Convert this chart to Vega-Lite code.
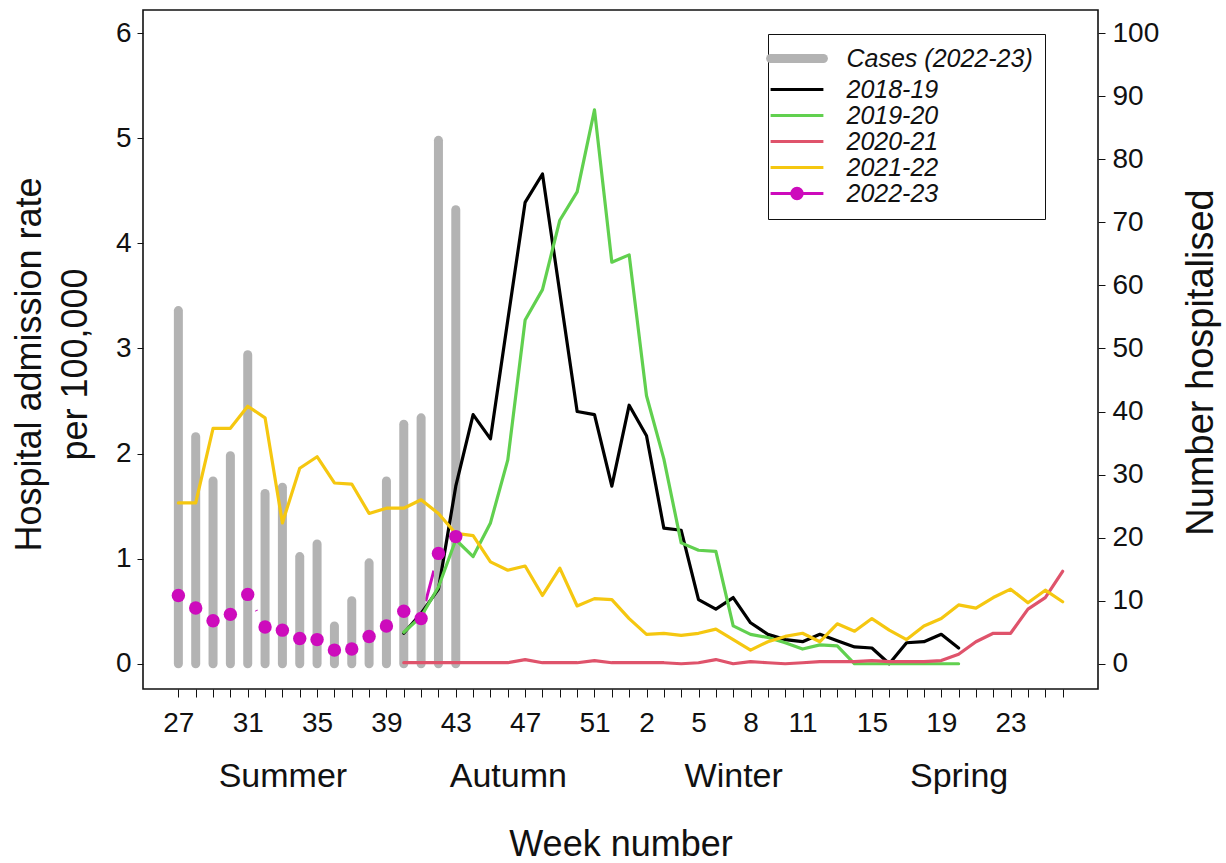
{
  "$schema": "https://vega.github.io/schema/vega-lite/v6.json",
  "autosize": "none",
  "width": 955,
  "height": 679,
  "padding": {"left": 143, "top": 10, "right": 128, "bottom": 174},
  "background": "#ffffff",
  "config": {
    "font": "Liberation Sans",
    "view": {"stroke": "#111111", "strokeWidth": 1.6},
    "axis": {"labelColor": "#111111", "titleColor": "#111111", "tickColor": "#111111", "grid": false, "domain": false, "labelFont": "Liberation Sans", "titleFont": "Liberation Sans", "titleFontWeight": "normal"}
  },
  "datasets": {
    "cases": [
      {"i": 0, "series": "Cases (2022-23)", "cases": 56},
      {"i": 1, "series": "Cases (2022-23)", "cases": 36},
      {"i": 2, "series": "Cases (2022-23)", "cases": 29},
      {"i": 3, "series": "Cases (2022-23)", "cases": 33},
      {"i": 4, "series": "Cases (2022-23)", "cases": 49},
      {"i": 5, "series": "Cases (2022-23)", "cases": 27},
      {"i": 6, "series": "Cases (2022-23)", "cases": 28},
      {"i": 7, "series": "Cases (2022-23)", "cases": 17},
      {"i": 8, "series": "Cases (2022-23)", "cases": 19},
      {"i": 9, "series": "Cases (2022-23)", "cases": 6},
      {"i": 10, "series": "Cases (2022-23)", "cases": 10},
      {"i": 11, "series": "Cases (2022-23)", "cases": 16},
      {"i": 12, "series": "Cases (2022-23)", "cases": 29},
      {"i": 13, "series": "Cases (2022-23)", "cases": 38},
      {"i": 14, "series": "Cases (2022-23)", "cases": 39},
      {"i": 15, "series": "Cases (2022-23)", "cases": 83},
      {"i": 16, "series": "Cases (2022-23)", "cases": 72}
    ],
    "current": [
      {"i": 0, "series": "2022-23", "rate": 0.65},
      {"i": 1, "series": "2022-23", "rate": 0.53},
      {"i": 2, "series": "2022-23", "rate": 0.41},
      {"i": 3, "series": "2022-23", "rate": 0.47},
      {"i": 4, "series": "2022-23", "rate": 0.66},
      {"i": 5, "series": "2022-23", "rate": 0.35},
      {"i": 6, "series": "2022-23", "rate": 0.32},
      {"i": 7, "series": "2022-23", "rate": 0.24},
      {"i": 8, "series": "2022-23", "rate": 0.23},
      {"i": 9, "series": "2022-23", "rate": 0.13},
      {"i": 10, "series": "2022-23", "rate": 0.14},
      {"i": 11, "series": "2022-23", "rate": 0.26},
      {"i": 12, "series": "2022-23", "rate": 0.36},
      {"i": 13, "series": "2022-23", "rate": 0.5},
      {"i": 14, "series": "2022-23", "rate": 0.43},
      {"i": 15, "series": "2022-23", "rate": 1.05},
      {"i": 16, "series": "2022-23", "rate": 1.21}
    ],
    "rates": [
      {"i": 13, "series": "2018-19", "rate": 0.29}, {"i": 14, "series": "2018-19", "rate": 0.48}, {"i": 15, "series": "2018-19", "rate": 0.71}, {"i": 16, "series": "2018-19", "rate": 1.69}, {"i": 17, "series": "2018-19", "rate": 2.37}, {"i": 18, "series": "2018-19", "rate": 2.14}, {"i": 19, "series": "2018-19", "rate": 3.27}, {"i": 20, "series": "2018-19", "rate": 4.39}, {"i": 21, "series": "2018-19", "rate": 4.66}, {"i": 22, "series": "2018-19", "rate": 3.53}, {"i": 23, "series": "2018-19", "rate": 2.4}, {"i": 24, "series": "2018-19", "rate": 2.37}, {"i": 25, "series": "2018-19", "rate": 1.69}, {"i": 26, "series": "2018-19", "rate": 2.46}, {"i": 27, "series": "2018-19", "rate": 2.17}, {"i": 28, "series": "2018-19", "rate": 1.29}, {"i": 29, "series": "2018-19", "rate": 1.27}, {"i": 30, "series": "2018-19", "rate": 0.61}, {"i": 31, "series": "2018-19", "rate": 0.52}, {"i": 32, "series": "2018-19", "rate": 0.63}, {"i": 33, "series": "2018-19", "rate": 0.39}, {"i": 34, "series": "2018-19", "rate": 0.28}, {"i": 35, "series": "2018-19", "rate": 0.23}, {"i": 36, "series": "2018-19", "rate": 0.21}, {"i": 37, "series": "2018-19", "rate": 0.28}, {"i": 38, "series": "2018-19", "rate": 0.22}, {"i": 39, "series": "2018-19", "rate": 0.16}, {"i": 40, "series": "2018-19", "rate": 0.15}, {"i": 41, "series": "2018-19", "rate": 0.0}, {"i": 42, "series": "2018-19", "rate": 0.2}, {"i": 43, "series": "2018-19", "rate": 0.21}, {"i": 44, "series": "2018-19", "rate": 0.28}, {"i": 45, "series": "2018-19", "rate": 0.15},
      {"i": 13, "series": "2019-20", "rate": 0.3}, {"i": 14, "series": "2019-20", "rate": 0.45}, {"i": 15, "series": "2019-20", "rate": 0.73}, {"i": 16, "series": "2019-20", "rate": 1.18}, {"i": 17, "series": "2019-20", "rate": 1.02}, {"i": 18, "series": "2019-20", "rate": 1.34}, {"i": 19, "series": "2019-20", "rate": 1.94}, {"i": 20, "series": "2019-20", "rate": 3.27}, {"i": 21, "series": "2019-20", "rate": 3.56}, {"i": 22, "series": "2019-20", "rate": 4.22}, {"i": 23, "series": "2019-20", "rate": 4.49}, {"i": 24, "series": "2019-20", "rate": 5.27}, {"i": 25, "series": "2019-20", "rate": 3.82}, {"i": 26, "series": "2019-20", "rate": 3.89}, {"i": 27, "series": "2019-20", "rate": 2.55}, {"i": 28, "series": "2019-20", "rate": 1.95}, {"i": 29, "series": "2019-20", "rate": 1.15}, {"i": 30, "series": "2019-20", "rate": 1.08}, {"i": 31, "series": "2019-20", "rate": 1.07}, {"i": 32, "series": "2019-20", "rate": 0.36}, {"i": 33, "series": "2019-20", "rate": 0.28}, {"i": 34, "series": "2019-20", "rate": 0.25}, {"i": 35, "series": "2019-20", "rate": 0.2}, {"i": 36, "series": "2019-20", "rate": 0.14}, {"i": 37, "series": "2019-20", "rate": 0.18}, {"i": 38, "series": "2019-20", "rate": 0.17}, {"i": 39, "series": "2019-20", "rate": 0.0}, {"i": 40, "series": "2019-20", "rate": 0.0}, {"i": 41, "series": "2019-20", "rate": 0.0}, {"i": 42, "series": "2019-20", "rate": 0.0}, {"i": 43, "series": "2019-20", "rate": 0.0}, {"i": 44, "series": "2019-20", "rate": 0.0}, {"i": 45, "series": "2019-20", "rate": 0.0},
      {"i": 13, "series": "2020-21", "rate": 0.01}, {"i": 14, "series": "2020-21", "rate": 0.01}, {"i": 15, "series": "2020-21", "rate": 0.01}, {"i": 16, "series": "2020-21", "rate": 0.01}, {"i": 17, "series": "2020-21", "rate": 0.01}, {"i": 18, "series": "2020-21", "rate": 0.01}, {"i": 19, "series": "2020-21", "rate": 0.01}, {"i": 20, "series": "2020-21", "rate": 0.04}, {"i": 21, "series": "2020-21", "rate": 0.01}, {"i": 22, "series": "2020-21", "rate": 0.01}, {"i": 23, "series": "2020-21", "rate": 0.01}, {"i": 24, "series": "2020-21", "rate": 0.03}, {"i": 25, "series": "2020-21", "rate": 0.01}, {"i": 26, "series": "2020-21", "rate": 0.01}, {"i": 27, "series": "2020-21", "rate": 0.01}, {"i": 28, "series": "2020-21", "rate": 0.01}, {"i": 29, "series": "2020-21", "rate": 0.0}, {"i": 30, "series": "2020-21", "rate": 0.01}, {"i": 31, "series": "2020-21", "rate": 0.04}, {"i": 32, "series": "2020-21", "rate": 0.0}, {"i": 33, "series": "2020-21", "rate": 0.02}, {"i": 34, "series": "2020-21", "rate": 0.01}, {"i": 35, "series": "2020-21", "rate": 0.0}, {"i": 36, "series": "2020-21", "rate": 0.01}, {"i": 37, "series": "2020-21", "rate": 0.02}, {"i": 38, "series": "2020-21", "rate": 0.02}, {"i": 39, "series": "2020-21", "rate": 0.02}, {"i": 40, "series": "2020-21", "rate": 0.03}, {"i": 41, "series": "2020-21", "rate": 0.02}, {"i": 42, "series": "2020-21", "rate": 0.02}, {"i": 43, "series": "2020-21", "rate": 0.02}, {"i": 44, "series": "2020-21", "rate": 0.03}, {"i": 45, "series": "2020-21", "rate": 0.09}, {"i": 46, "series": "2020-21", "rate": 0.21}, {"i": 47, "series": "2020-21", "rate": 0.29}, {"i": 48, "series": "2020-21", "rate": 0.29}, {"i": 49, "series": "2020-21", "rate": 0.52}, {"i": 50, "series": "2020-21", "rate": 0.63}, {"i": 51, "series": "2020-21", "rate": 0.88},
      {"i": 0, "series": "2021-22", "rate": 1.53}, {"i": 1, "series": "2021-22", "rate": 1.53}, {"i": 2, "series": "2021-22", "rate": 2.24}, {"i": 3, "series": "2021-22", "rate": 2.24}, {"i": 4, "series": "2021-22", "rate": 2.45}, {"i": 5, "series": "2021-22", "rate": 2.34}, {"i": 6, "series": "2021-22", "rate": 1.34}, {"i": 7, "series": "2021-22", "rate": 1.86}, {"i": 8, "series": "2021-22", "rate": 1.97}, {"i": 9, "series": "2021-22", "rate": 1.72}, {"i": 10, "series": "2021-22", "rate": 1.71}, {"i": 11, "series": "2021-22", "rate": 1.43}, {"i": 12, "series": "2021-22", "rate": 1.48}, {"i": 13, "series": "2021-22", "rate": 1.48}, {"i": 14, "series": "2021-22", "rate": 1.56}, {"i": 15, "series": "2021-22", "rate": 1.43}, {"i": 16, "series": "2021-22", "rate": 1.24}, {"i": 17, "series": "2021-22", "rate": 1.22}, {"i": 18, "series": "2021-22", "rate": 0.97}, {"i": 19, "series": "2021-22", "rate": 0.89}, {"i": 20, "series": "2021-22", "rate": 0.93}, {"i": 21, "series": "2021-22", "rate": 0.65}, {"i": 22, "series": "2021-22", "rate": 0.91}, {"i": 23, "series": "2021-22", "rate": 0.55}, {"i": 24, "series": "2021-22", "rate": 0.62}, {"i": 25, "series": "2021-22", "rate": 0.61}, {"i": 26, "series": "2021-22", "rate": 0.43}, {"i": 27, "series": "2021-22", "rate": 0.28}, {"i": 28, "series": "2021-22", "rate": 0.29}, {"i": 29, "series": "2021-22", "rate": 0.27}, {"i": 30, "series": "2021-22", "rate": 0.29}, {"i": 31, "series": "2021-22", "rate": 0.33}, {"i": 32, "series": "2021-22", "rate": 0.23}, {"i": 33, "series": "2021-22", "rate": 0.13}, {"i": 34, "series": "2021-22", "rate": 0.21}, {"i": 35, "series": "2021-22", "rate": 0.26}, {"i": 36, "series": "2021-22", "rate": 0.29}, {"i": 37, "series": "2021-22", "rate": 0.21}, {"i": 38, "series": "2021-22", "rate": 0.38}, {"i": 39, "series": "2021-22", "rate": 0.31}, {"i": 40, "series": "2021-22", "rate": 0.43}, {"i": 41, "series": "2021-22", "rate": 0.32}, {"i": 42, "series": "2021-22", "rate": 0.23}, {"i": 43, "series": "2021-22", "rate": 0.36}, {"i": 44, "series": "2021-22", "rate": 0.43}, {"i": 45, "series": "2021-22", "rate": 0.56}, {"i": 46, "series": "2021-22", "rate": 0.53}, {"i": 47, "series": "2021-22", "rate": 0.63}, {"i": 48, "series": "2021-22", "rate": 0.71}, {"i": 49, "series": "2021-22", "rate": 0.58}, {"i": 50, "series": "2021-22", "rate": 0.7}, {"i": 51, "series": "2021-22", "rate": 0.59}
    ]
  },
  "layer": [
    {
      "data": {"name": "current"},
      "mark": {"type": "line", "strokeWidth": 3, "strokeCap": "round", "strokeJoin": "round"},
      "encoding": {
        "x": {"field": "i", "type": "quantitative", "scale": {"domain": [-2.04, 53.04], "nice": false, "zero": false}, "axis": null},
        "y": {"field": "rate", "type": "quantitative", "scale": {"domain": [-0.24, 6.22], "nice": false, "zero": false}, "axis": null},
        "color": {"field": "series", "type": "nominal", "scale": {"domain": ["Cases (2022-23)", "2018-19", "2019-20", "2020-21", "2021-22", "2022-23"], "range": ["#b3b3b3", "#000000", "#61d04f", "#df536b", "#f5c710", "#cd0bbc"]}}
      }
    },
    {
      "data": {"name": "current"},
      "mark": {"type": "point", "filled": true, "size": 1300, "color": "#ffffff", "opacity": 1},
      "encoding": {
        "x": {"field": "i", "type": "quantitative", "scale": {"domain": [-2.04, 53.04], "nice": false, "zero": false}, "axis": null},
        "y": {"field": "rate", "type": "quantitative", "scale": {"domain": [-0.24, 6.22], "nice": false, "zero": false}, "axis": null}
      }
    },
    {
      "data": {"name": "cases"},
      "mark": {"type": "rule", "strokeWidth": 9, "strokeCap": "round"},
      "encoding": {
        "x": {"field": "i", "type": "quantitative", "scale": {"domain": [-2.04, 53.04], "nice": false, "zero": false}, "axis": null},
        "y": {"field": "cases", "type": "quantitative", "scale": {"domain": [-4, 103.67], "nice": false, "zero": false},
          "axis": {"orient": "right", "values": [0, 10, 20, 30, 40, 50, 60, 70, 80, 90, 100], "tickSize": 7, "labelPadding": 7, "labelFontSize": 28, "title": "Number hospitalised", "titleFontSize": 38, "titleAngle": 270, "titlePadding": 62, "titleY": 352}},
        "y2": {"datum": 0},
        "color": {"field": "series", "type": "nominal", "scale": {"domain": ["Cases (2022-23)", "2018-19", "2019-20", "2020-21", "2021-22", "2022-23"], "range": ["#b3b3b3", "#000000", "#61d04f", "#df536b", "#f5c710", "#cd0bbc"]}}
      }
    },
    {
      "data": {"name": "rates"},
      "mark": {"type": "line", "strokeWidth": 3.2, "strokeCap": "round", "strokeJoin": "round"},
      "encoding": {
        "x": {"field": "i", "type": "quantitative", "scale": {"domain": [-2.04, 53.04], "nice": false, "zero": false},
          "axis": {"orient": "bottom", "values": [0,1,2,3,4,5,6,7,8,9,10,11,12,13,14,15,16,17,18,19,20,21,22,23,24,25,26,27,28,29,30,31,32,33,34,35,36,37,38,39,40,41,42,43,44,45,46,47,48,49,50,51],
            "labelExpr": "indexof([0,4,8,12,16,20,24,27,30,33,36,40,44,48], datum.value) >= 0 ? '' + (datum.value < 26 ? datum.value + 27 : datum.value - 25) : ''",
            "tickSize": 8, "labelPadding": 12, "labelFontSize": 28, "labelFlush": false, "labelOverlap": false, "title": null}},
        "y": {"field": "rate", "type": "quantitative", "scale": {"domain": [-0.24, 6.22], "nice": false, "zero": false},
          "axis": {"orient": "left", "values": [0, 1, 2, 3, 4, 5, 6], "tickSize": 6, "labelPadding": 6, "labelFontSize": 28, "title": ["Hospital admission rate", "per 100,000"], "titleFontSize": 36, "titleLineHeight": 46, "titlePadding": 21, "titleY": 354}},
        "color": {"field": "series", "type": "nominal", "scale": {"domain": ["Cases (2022-23)", "2018-19", "2019-20", "2020-21", "2021-22", "2022-23"], "range": ["#b3b3b3", "#000000", "#61d04f", "#df536b", "#f5c710", "#cd0bbc"]},
          "legend": {"orient": "none", "legendX": 625, "legendY": 24, "title": null, "symbolType": "M-6.6,0L6.6,0", "symbolSize": 64, "symbolStrokeWidth": 3, "padding": 12, "symbolOffset": 4.5, "labelOffset": 37, "rowPadding": 0, "labelFont": "Liberation Sans", "labelFontSize": 25, "labelFontStyle": "italic", "labelColor": "#111111", "labelLimit": 400, "strokeColor": "#111111", "fillColor": "#ffffff",
            "encode": {"symbols": {"update": {
              "shape": {"signal": "datum.label === '2022-23' ? 'M-6.6,0L6.6,0M-1.3,0A1.3,1.3,0,1,0,1.3,0A1.3,1.3,0,1,0,-1.3,0' : 'M-6.6,0L6.6,0'"},
              "stroke": {"scale": "color", "field": "value"},
              "strokeWidth": {"signal": "datum.label === 'Cases (2022-23)' ? 9 : 3"},
              "strokeCap": {"signal": "datum.label === 'Cases (2022-23)' ? 'round' : 'butt'"},
              "fill": {"signal": "datum.label === '2022-23' ? '#cd0bbc' : 'transparent'"},
              "opacity": {"value": 1}
            }}}}}
      }
    },
    {
      "data": {"name": "current"},
      "mark": {"type": "point", "filled": true, "size": 180, "opacity": 1},
      "encoding": {
        "x": {"field": "i", "type": "quantitative", "scale": {"domain": [-2.04, 53.04], "nice": false, "zero": false},
          "axis": {"orient": "bottom", "values": [6, 19, 32, 45], "labelExpr": "datum.value == 6 ? 'Summer' : datum.value == 19 ? 'Autumn' : datum.value == 32 ? 'Winter' : 'Spring'", "ticks": false, "labelPadding": 70, "labelFontSize": 34, "labelFlush": false, "labelOverlap": false, "title": "Week number", "titleFontSize": 36, "titlePadding": 34}},
        "y": {"field": "rate", "type": "quantitative", "scale": {"domain": [-0.24, 6.22], "nice": false, "zero": false}, "axis": null},
        "color": {"field": "series", "type": "nominal", "scale": {"domain": ["Cases (2022-23)", "2018-19", "2019-20", "2020-21", "2021-22", "2022-23"], "range": ["#b3b3b3", "#000000", "#61d04f", "#df536b", "#f5c710", "#cd0bbc"]}}
      }
    }
  ],
  "resolve": {"scale": {"y": "independent"}, "axis": {"x": "independent"}}
}
